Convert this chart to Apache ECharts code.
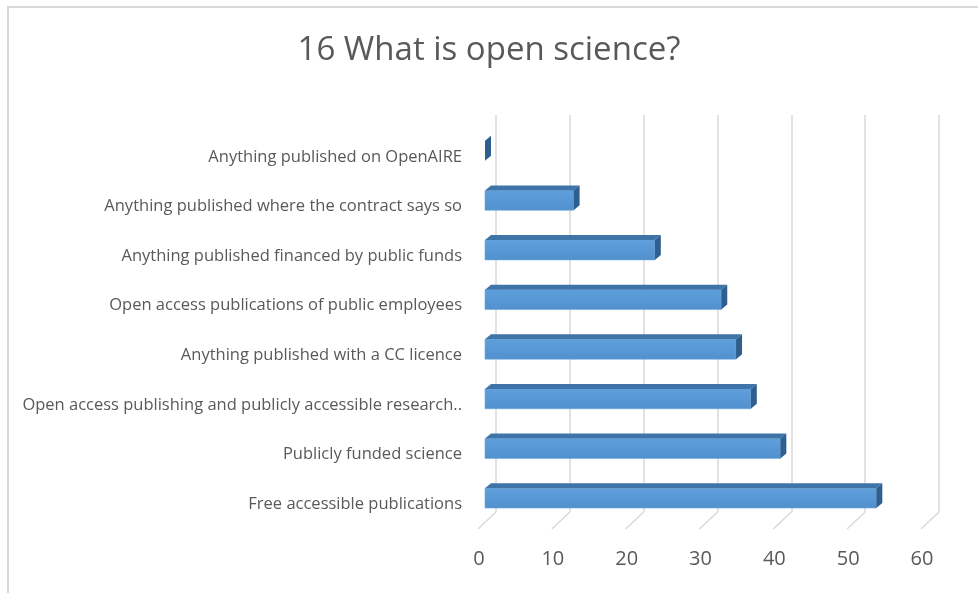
<!DOCTYPE html>
<html>
<head>
<meta charset="utf-8">
<script src="https://cdn.jsdelivr.net/npm/echarts@6/dist/echarts.min.js"></script>
<style>
html,body{margin:0;padding:0;background:#fff;}
#wrap{position:relative;width:978px;height:593px;overflow:hidden;}
#frame{position:absolute;left:7px;top:6px;width:990px;height:600px;border-left:2px solid #d9d9d9;border-top:2px solid #d9d9d9;box-sizing:border-box;pointer-events:none;}
#chart{position:absolute;left:0;top:0;width:978px;height:593px;}
</style>
</head>
<body>
<div id="wrap"><div id="chart"></div><div id="frame"></div></div>
<script>
const titleText = '16 What is open science?';
const categories = [
  'Anything published on OpenAIRE',
  'Anything published where the contract says so',
  'Anything published financed by public funds',
  'Open access publications of public employees',
  'Anything published with a CC licence',
  'Open access publishing and publicly accessible research..',
  'Publicly funded science',
  'Free accessible publications'
];
const values = [0, 12, 23, 32, 34, 36, 40, 53];
const tickValues = [0, 10, 20, 30, 40, 50, 60];

const FONT = 'Open Sans';
const chart = echarts.init(document.getElementById('chart'), null, {renderer: 'canvas'});

function barItem(params, api) {
  const i = api.value(1);
  const v = api.value(0);
  const p0 = api.coord([0, i]);
  const p1 = api.coord([v, i]);
  const band = api.size([0, 1])[1];
  const fx = -11, ddx = 6, ddy = -5;
  const x0 = p0[0] + fx, x1 = p1[0] + fx;
  const yT = p0[1] + band * 0.02, yB = p0[1] + band * 0.42;
  const children = [];
  if (x1 - x0 > 0.5) {
    children.push({type: 'rect', shape: {x: x0, y: yT, width: x1 - x0, height: yB - yT},
      style: {fill: new echarts.graphic.LinearGradient(0, 0, 0, 1, [
        {offset: 0, color: '#5f9fdb'}, {offset: 0.5, color: '#5898d6'}, {offset: 1, color: '#5290cd'}]),
        stroke: '#6aa6dc', lineWidth: 0.6}});
    children.push({type: 'polygon', shape: {points: [[x0, yT], [x1, yT], [x1 + ddx, yT + ddy], [x0 + ddx, yT + ddy]]},
      style: {fill: '#3f74a9'}});
  }
  children.push({type: 'polygon', shape: {points: [[x1, yT], [x1 + ddx, yT + ddy], [x1 + ddx, yB + ddy], [x1, yB]]},
    style: {fill: '#2f5f8f'}});
  return {type: 'group', children: children};
}

function floorItem(params, api) {
  const t = api.value(0);
  const p = api.coord([t, categories.length - 1]);
  const band = api.size([0, 1])[1];
  const yb = p[1] + band / 2;
  return {type: 'line', shape: {x1: p[0], y1: yb, x2: p[0] - 18, y2: yb + 17},
    style: {stroke: '#d9d9d9', lineWidth: 1.5}};
}

chart.setOption({
  animation: false,
  backgroundColor: '#ffffff',
  title: {
    text: titleText, left: 'center', top: 29,
    textStyle: {fontFamily: FONT, fontSize: 33, fontWeight: 'normal', color: '#595959'}
  },
  grid: {left: 496, right: 39, top: 115, bottom: 81, containLabel: false},
  xAxis: {
    type: 'value', min: 0, max: 60, interval: 10,
    axisLine: {show: false}, axisTick: {show: false},
    splitLine: {show: true, lineStyle: {color: '#d9d9d9', width: 1.5}},
    axisLabel: {fontFamily: FONT, fontSize: 20, color: '#595959', margin: 37, padding: [0, 34, 0, 0],
      formatter: function (v) { return tickValues.indexOf(v) >= 0 ? String(v) : ''; }}
  },
  yAxis: {
    type: 'category', data: categories, inverse: true,
    axisLine: {show: false}, axisTick: {show: false}, splitLine: {show: false},
    axisLabel: {fontFamily: FONT, fontSize: 16.5, color: '#595959', margin: 34,
      verticalAlign: 'top', lineHeight: 34}
  },
  series: [
    {type: 'custom', renderItem: floorItem, data: tickValues.map(t => [t]), encode: {x: 0}, silent: true, z: 1},
    {type: 'custom', renderItem: barItem, data: values.map((v, i) => [v, i]), encode: {x: 0, y: 1}, z: 3}
  ]
});
</script>
</body>
</html>
